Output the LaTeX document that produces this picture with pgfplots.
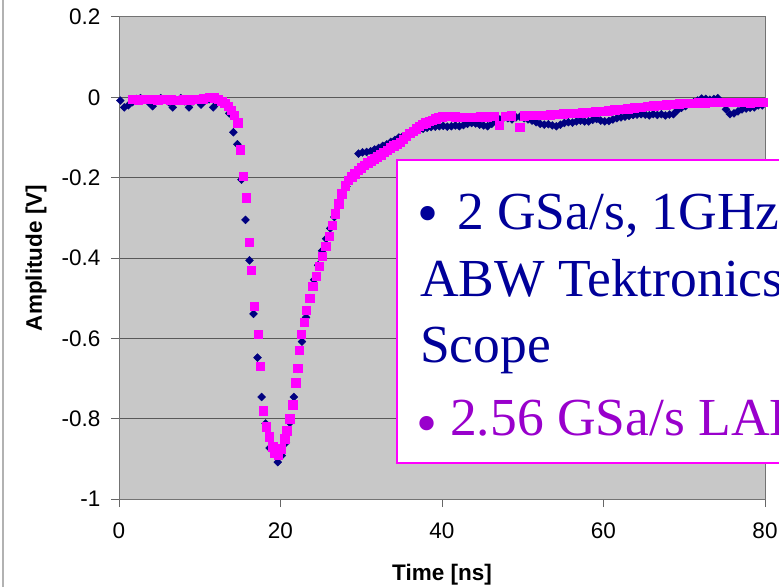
\documentclass[border=0pt]{standalone}
\usepackage{pgfplots}
\usepackage{pgfplotstable}
\pgfplotsset{compat=1.18}
\usepackage{fontspec}
\setmainfont{Liberation Sans}
\newfontfamily\serif{Liberation Serif}
\definecolor{navyblue}{RGB}{0,0,128}
\definecolor{mag}{RGB}{255,0,255}
\definecolor{plotgrey}{RGB}{200,200,200}
\definecolor{txtblue}{RGB}{0,0,153}
\definecolor{txtpurple}{RGB}{153,0,204}

% 2 GSa/s Tektronix scope
\pgfplotstableread{
t V
0.16 -0.008
0.66 -0.025
1.16 -0.02
1.66 -0.012
2.16 -0.004
2.66 -0.002
3.16 -0.006
3.66 -0.012
4.16 -0.022
4.66 -0.006
5.16 -0.002
5.66 -0.006
6.16 -0.012
6.66 -0.025
7.16 -0.008
7.66 -0.002
8.16 -0.01
8.66 -0.025
9.16 -0.01
9.66 -0.006
10.16 -0.018
10.66 -0.008
11.16 -0.005
11.66 -0.025
12.16 -0.014
12.66 -0.012
13.16 -0.018
13.66 -0.04
14.16 -0.087
14.66 -0.117
15.16 -0.205
15.66 -0.305
16.16 -0.406
16.66 -0.539
17.16 -0.648
17.66 -0.746
18.16 -0.812
18.66 -0.873
19.16 -0.878
19.66 -0.908
20.16 -0.892
20.66 -0.86
21.16 -0.81
21.66 -0.746
22.16 -0.676
22.66 -0.608
23.16 -0.548
23.66 -0.5
24.16 -0.454
24.66 -0.418
25.16 -0.382
25.66 -0.352
26.16 -0.326
26.66 -0.298
27.16 -0.27
27.66 -0.243
28.16 -0.222
28.66 -0.206
29.16 -0.196
29.66 -0.14
30.16 -0.137
30.66 -0.136
31.16 -0.134
31.66 -0.13
32.16 -0.126
32.66 -0.121
33.16 -0.117
33.66 -0.111
34.16 -0.106
34.66 -0.1
35.16 -0.097
35.66 -0.093
36.16 -0.088
36.66 -0.085
37.16 -0.081
37.66 -0.078
38.16 -0.076
38.66 -0.074
39.16 -0.073
39.66 -0.072
40.16 -0.071
40.66 -0.073
41.16 -0.072
41.66 -0.07
42.16 -0.072
42.66 -0.069
43.16 -0.066
43.66 -0.064
44.16 -0.065
44.66 -0.068
45.16 -0.07
45.66 -0.072
46.16 -0.066
46.66 -0.06
47.16 -0.055
47.66 -0.05
48.16 -0.052
48.66 -0.055
49.16 -0.05
49.66 -0.048
50.16 -0.052
50.66 -0.055
51.16 -0.058
51.66 -0.062
52.16 -0.066
52.66 -0.068
53.16 -0.067
53.66 -0.07
54.16 -0.072
54.66 -0.068
55.16 -0.064
55.66 -0.062
56.16 -0.063
56.66 -0.06
57.16 -0.058
57.66 -0.06
58.16 -0.06
58.66 -0.056
59.16 -0.054
59.66 -0.058
60.16 -0.06
60.66 -0.059
61.16 -0.055
61.66 -0.052
62.16 -0.05
62.66 -0.048
63.16 -0.046
63.66 -0.044
64.16 -0.043
64.66 -0.042
65.16 -0.043
65.66 -0.045
66.16 -0.042
66.66 -0.044
67.16 -0.042
67.66 -0.045
68.16 -0.043
68.66 -0.042
69.16 -0.032
69.66 -0.026
70.16 -0.022
70.66 -0.016
71.16 -0.012
71.66 -0.008
72.16 -0.003
72.66 -0.004
73.16 -0.006
73.66 -0.004
74.16 -0.002
74.66 -0.012
75.16 -0.03
75.66 -0.042
76.16 -0.04
76.66 -0.035
77.16 -0.03
77.66 -0.028
78.16 -0.026
78.66 -0.025
79.16 -0.02
79.66 -0.02
}\tekdata

% 2.56 GSa/s LAB chip
\pgfplotstableread{
t V
1.6 -0.005
2.4 -0.006
3.2 -0.004
4.0 -0.005
4.8 -0.006
5.6 -0.005
6.4 -0.006
7.2 -0.007
8.0 -0.006
8.8 -0.006
9.6 -0.005
10.4 -0.003
11.2 0.0
11.8 -0.001
12.3 -0.005
12.7 -0.009
13.1 -0.014
13.5 -0.022
13.9 -0.032
14.3 -0.045
14.7 -0.063
15.03 -0.13
15.4 -0.197
15.78 -0.25
16.15 -0.36
16.4 -0.43
16.77 -0.52
17.27 -0.59
17.52 -0.67
17.89 -0.78
18.26 -0.82
18.63 -0.845
19.01 -0.87
19.25 -0.885
19.75 -0.89
20.12 -0.875
20.5 -0.85
20.75 -0.83
21.12 -0.80
21.49 -0.765
21.86 -0.71
22.11 -0.675
22.35 -0.63
22.6 -0.59
22.9 -0.56
23.2 -0.53
23.6 -0.50
24.0 -0.47
24.4 -0.445
24.8 -0.42
25.2 -0.395
25.6 -0.37
26.0 -0.345
26.4 -0.318
26.8 -0.29
27.2 -0.265
27.6 -0.24
28.0 -0.22
28.4 -0.207
28.8 -0.198
29.2 -0.19
29.6 -0.182
30.0 -0.175
30.4 -0.169
30.8 -0.163
31.2 -0.158
31.6 -0.153
32.0 -0.148
32.4 -0.143
32.8 -0.137
33.2 -0.131
33.6 -0.125
34.0 -0.12
34.4 -0.116
34.8 -0.111
35.2 -0.104
35.6 -0.097
36.0 -0.09
36.4 -0.084
36.8 -0.078
37.2 -0.072
37.6 -0.067
38.0 -0.063
38.4 -0.06
38.8 -0.057
39.2 -0.053
39.6 -0.05
40.0 -0.048
40.8 -0.047
41.6 -0.048
42.4 -0.05
43.2 -0.05
44.0 -0.049
44.8 -0.048
45.6 -0.048
46.4 -0.047
47.1 -0.07
47.8 -0.047
48.6 -0.046
49.6 -0.075
50.2 -0.046
51.0 -0.045
51.8 -0.045
52.6 -0.044
53.4 -0.043
54.2 -0.042
55.0 -0.041
55.8 -0.04
56.6 -0.039
57.4 -0.038
58.2 -0.037
59.0 -0.036
59.8 -0.035
60.6 -0.033
61.4 -0.031
62.2 -0.03
63.0 -0.028
63.8 -0.026
64.6 -0.024
65.4 -0.022
66.2 -0.021
67.0 -0.019
67.8 -0.018
68.6 -0.017
69.4 -0.016
70.2 -0.015
71.0 -0.014
71.8 -0.013
72.6 -0.013
73.4 -0.012
74.2 -0.012
75.0 -0.012
75.8 -0.012
76.6 -0.012
77.4 -0.012
78.2 -0.013
79.0 -0.012
79.8 -0.012
}\labdata

\begin{document}
\begin{tikzpicture}[x=1pt,y=1pt]
\useasboundingbox (0,0) rectangle (779,587);
\clip (0,0) rectangle (779,587);
\draw[gray!60,line width=1.2pt] (3,0) -- (3,587);
\begin{axis}[at={(119pt,88pt)},anchor=south west,scale only axis,width=646pt,height=482pt,
  xmin=0,xmax=80,ymin=-1,ymax=0.2,
  xtick={0,20,40,60,80},xticklabels={0,20,40,60,80},
  ytick={-1,-0.8,-0.6,-0.4,-0.2,0,0.2},yticklabels={-1,-0.8,-0.6,-0.4,-0.2,0,0.2},
  tick label style={font=\fontsize{22.5}{26}\selectfont},
  xticklabel style={yshift=-12pt},yticklabel style={xshift=-7pt},
  ymajorgrids,grid style={black!65,line width=1pt},
  axis line style={black!55,line width=1pt},tick style={black!60,line width=1pt},
  major tick length=8pt,tick align=outside,tick pos=left,
  axis background/.style={fill=plotgrey},
  xlabel={Time [ns]},ylabel={Amplitude [V]},
  label style={font=\bfseries\fontsize{22.5}{26}\selectfont},
  xlabel style={at={(axis description cs:0.5,0)},anchor=center,yshift=-76pt},
  ylabel style={at={(axis description cs:0,0.5)},anchor=center,yshift=83pt}]
\addplot[only marks,mark=square*,mark size=2.8pt,navyblue,mark options={rotate=45,draw=navyblue,fill=navyblue}] table {\tekdata};
\addplot[only marks,mark=square*,mark size=4.2pt,mag,mark options={draw=mag,fill=mag}] table {\labdata};
\end{axis}
% text box laid over the chart
\fill[white] (397,124) rectangle (790,427);
\draw[mag,line width=1.5pt] (790,427) -- (397,427) -- (397,124) -- (790,124);
\node[text=txtblue,font=\serif\fontsize{60}{60}\selectfont,inner sep=0] at (428,367) {•};
\node[anchor=base west,text=txtblue,font=\serif\fontsize{53.5}{60}\selectfont,inner sep=0] at (457,357) {2 GSa/s, 1GHz};
\node[anchor=base west,text=txtblue,font=\serif\fontsize{53.5}{60}\selectfont,inner sep=0] at (420,290) {ABW Tektronics};
\node[anchor=base west,text=txtblue,font=\serif\fontsize{53.5}{60}\selectfont,inner sep=0] at (420,225) {Scope};
\node[text=txtpurple,font=\serif\fontsize{60}{60}\selectfont,inner sep=0] at (427,157) {•};
\node[anchor=base west,text=txtpurple,font=\serif\fontsize{53.5}{60}\selectfont,inner sep=0] at (450,152) {2.56 GSa/s LABRADOR};
\end{tikzpicture}
\end{document}
